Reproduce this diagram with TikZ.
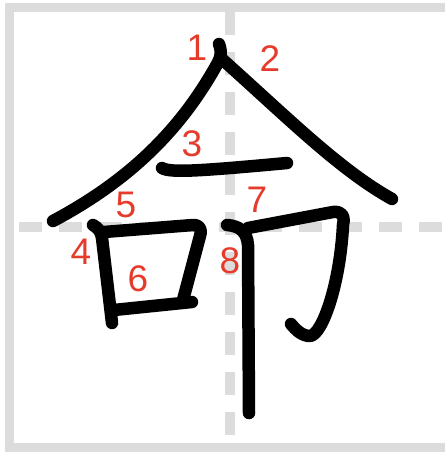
\documentclass[tikz,border=0pt]{standalone}
\usepackage{fontspec}
\setmainfont{Liberation Sans}

\definecolor{gridgray}{HTML}{DCDCDC}
\definecolor{numred}{HTML}{E63B2A}

\tikzset{
    brush/.style={line width=12.5pt, line cap=round, line join=round, black},
    guide/.style={line width=10pt, gridgray, dash pattern=on 23pt off 17pt},
    num/.style={inner sep=0pt, text=numred, font=\fontsize{37}{37}\selectfont}
}

\begin{document}
\begin{tikzpicture}[x=1pt, y=-1pt]
    \useasboundingbox (0,0) rectangle (444,452);

    % frame and guide lines
    \draw[gridgray, line width=9pt] (460,7.5) -- (9.5,7.5) -- (9.5,447.5) -- (460,447.5);
    \draw[guide] (19,227) -- (444,227);
    \draw[guide] (230,12) -- (230,443);

    % strokes of the character
    \begin{scope}
        \draw[brush] (219,44) .. controls (222,52) and (221,58) .. (216,66)
            .. controls (180,130) and (130,180) .. (53,221);
        \draw[brush] (223,60) .. controls (290,120) and (340,170) .. (392,199);
        \draw[brush] (162,168) .. controls (170,173) and (200,171) .. (287,163);

        \draw[brush] (93,225) .. controls (98,228) and (101,231) .. (102,238) -- (112,323);
        \draw[brush] (104,232) -- (193,225) .. controls (200,225) and (202,229) .. (200,236) -- (183,300);
        \draw[brush] (114,310) -- (192,302);

        \draw[brush] (248,228) -- (333,212) .. controls (342,211) and (345,216) .. (343,225)
            .. controls (340,285) and (322,335) .. (310,336)
            .. controls (302,336) and (296,330) .. (291,324);
        \draw[brush] (227,225) .. controls (240,226) and (247,232) .. (248,245) -- (249,413);
    \end{scope}

    % stroke order numbers
    \foreach \n/\x/\y in {1/197/48, 2/270/59, 3/192/144, 4/81/252,
                          5/126/205, 6/138/279, 7/257/200, 8/230/261} {
        \node[num] (order\n) at (\x,\y) {\n};
    }
\end{tikzpicture}
\end{document}
